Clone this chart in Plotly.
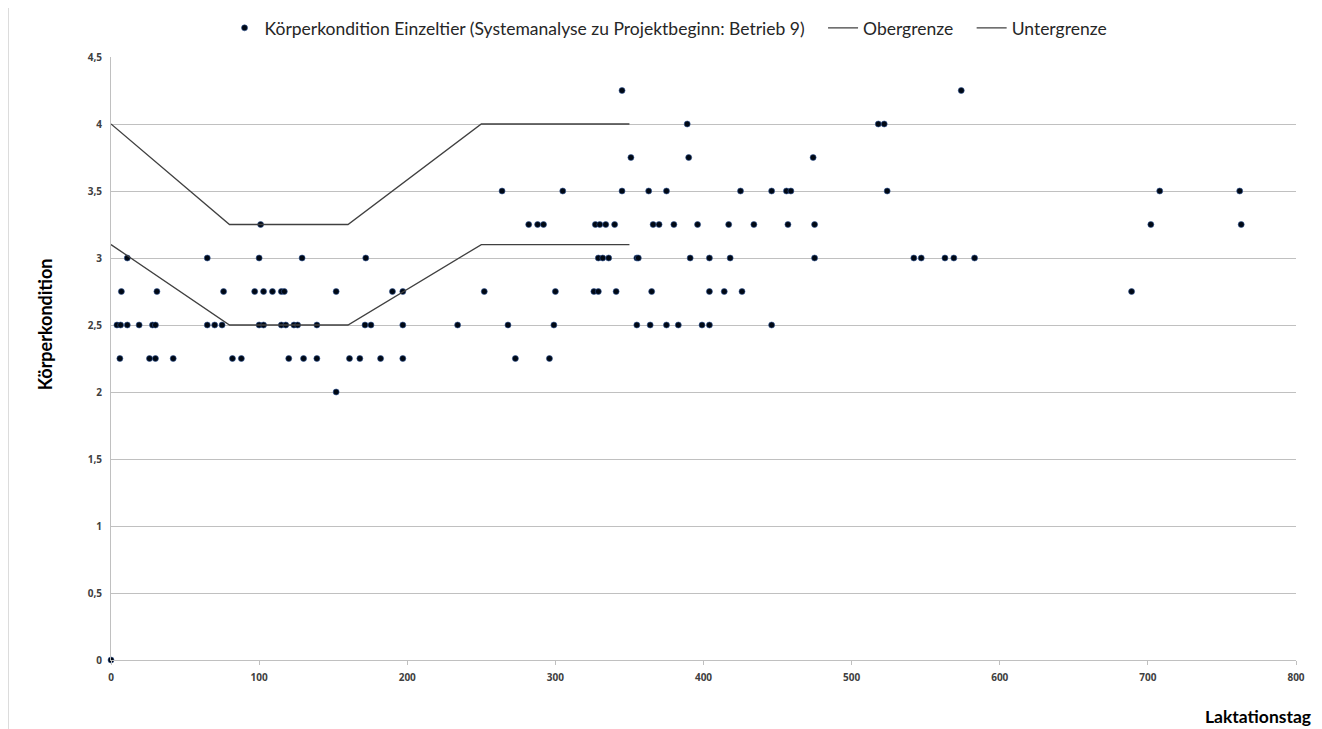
import plotly.graph_objects as go

# Körperkondition je Einzeltier (Laktationstag, BCS)
tier_tag = [
    0,
    4, 6.5, 11, 19, 28, 30, 65, 70, 75, 100, 103, 115, 118, 123.5, 126, 139,
    171.5, 175.5, 197, 234, 268, 299, 355, 364, 375, 383, 399, 404, 446,
    6, 26, 30, 42, 82, 88, 120, 130, 139, 161, 168, 182, 197, 273, 296,
    7, 31, 76, 97, 103, 109, 115, 117, 152, 190, 197, 252, 300, 326, 329,
    341, 365, 404, 414, 426, 689,
    11, 65, 100, 129, 172, 329, 332, 336, 355, 356, 391, 404, 418, 475,
    542, 547, 563, 569, 583,
    101, 282, 288, 292, 327, 330, 334, 340, 366, 370, 380, 396, 417, 434,
    457, 475, 702, 763,
    264, 305, 345, 363, 375, 425, 446, 456, 459, 524, 708, 762,
    351, 390, 474,
    389, 518, 522,
    345, 574,
    152,
]
tier_bcs = (
    [0]
    + [2.5] * 29
    + [2.25] * 15
    + [2.75] * 21
    + [3] * 19
    + [3.25] * 18
    + [3.5] * 12
    + [3.75] * 3
    + [4] * 3
    + [4.25] * 2
    + [2]
)

# Grenzlinien
grenze_tag = [0, 80, 160, 250, 350]
obergrenze = [4, 3.25, 3.25, 4, 4]
untergrenze = [3.1, 2.5, 2.5, 3.1, 3.1]

line_col = "#404040"
grid_col = "#c0c0c0"
tick_font = dict(family="Open Sans, sans-serif", size=10, color="#404040", weight="bold")
pad = "\u00a0\u00a0\u00a0"  # extra room between legend entries

fig = go.Figure()
fig.add_scatter(
    x=tier_tag, y=tier_bcs, mode="markers", cliponaxis=False,
    name="Körperkondition Einzeltier (Systemanalyse zu Projektbeginn: Betrieb 9)" + pad,
    marker=dict(size=6, color="#000814", line=dict(color="#2f5597", width=0.6)),
)
fig.add_scatter(x=grenze_tag, y=obergrenze, mode="lines", name="Obergrenze" + pad,
                line=dict(color=line_col, width=1.3))
fig.add_scatter(x=grenze_tag, y=untergrenze, mode="lines", name="Untergrenze",
                line=dict(color=line_col, width=1.3))

# the page body adds an 8px margin, so the figure is 8px smaller than the window
fig.update_layout(
    width=1314, height=721,
    margin=dict(l=103, r=26, t=49, b=69, autoexpand=False),
    paper_bgcolor="white", plot_bgcolor="white",
    separators=",.",
    font=dict(family="Lato, Open Sans, sans-serif", size=14, color="#262626"),
    showlegend=True,
    legend=dict(orientation="h", x=0.4705, xanchor="center", y=1.078, yanchor="top",
                font=dict(size=17.5), itemwidth=30, tracegroupgap=0),
    xaxis=dict(range=[0, 800], dtick=100, showgrid=False, zeroline=False,
               showline=True, linecolor=grid_col, ticks="outside", ticklen=4,
               tickcolor=grid_col, tickfont=tick_font, ticklabelstandoff=4),
    yaxis=dict(range=[0, 4.5], dtick=0.5, showgrid=True, gridcolor=grid_col,
               zeroline=False, showline=True, linecolor=grid_col,
               tickfont=tick_font, ticklabelstandoff=6),
    annotations=[
        dict(text="<b>Körperkondition</b>", xref="paper", yref="paper", x=-0.056, y=0.556,
             xanchor="center", yanchor="middle", textangle=-90, showarrow=False,
             font=dict(size=18, color="#000000")),
        dict(text="<b>Laktationstag</b>", xref="paper", yref="paper", x=1.0143, y=-0.093,
             xanchor="right", yanchor="middle", showarrow=False,
             font=dict(size=17.5, color="#000000")),
    ],
    shapes=[
        dict(type="rect", xref="paper", yref="paper", x0=-0.087, x1=1.0186, y0=-0.2, y1=1.091,
             line=dict(color="#a6a6a6", width=1)),
    ],
)

fig.write_html("out.html")
